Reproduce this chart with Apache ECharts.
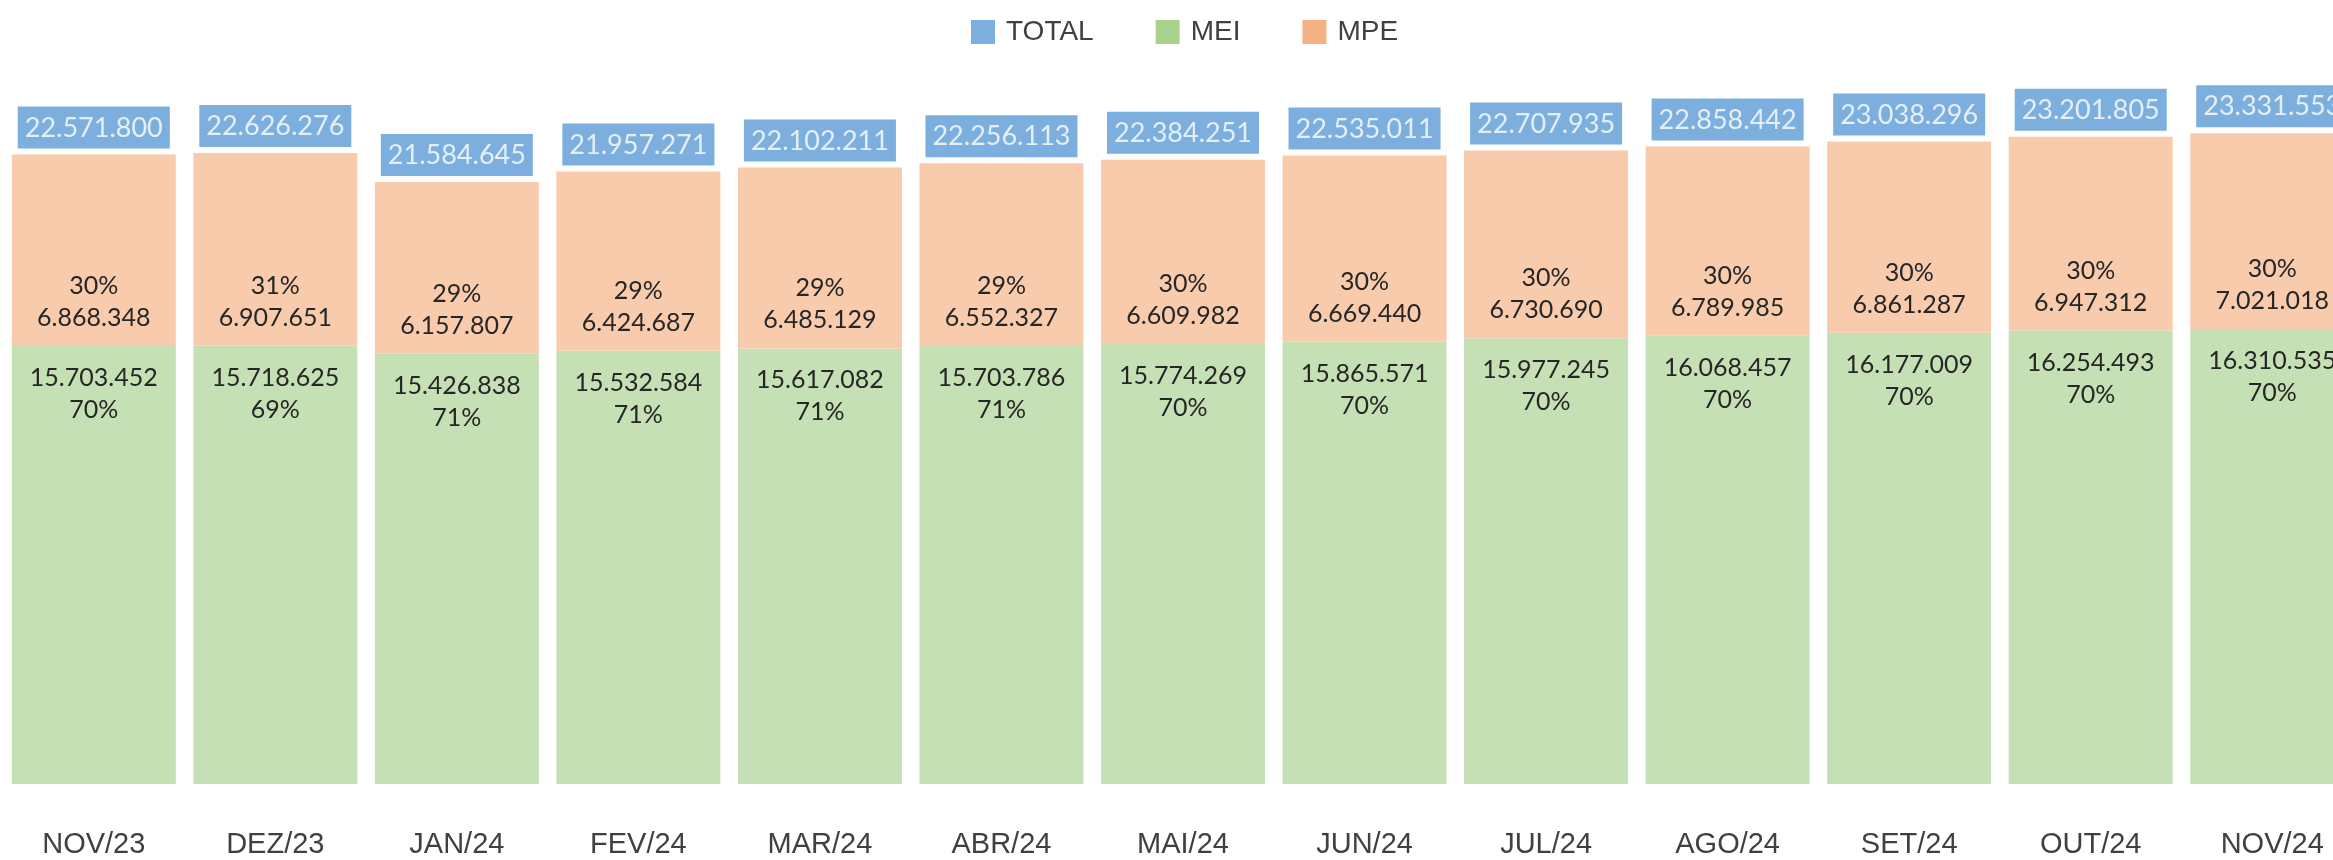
<!DOCTYPE html>
<html>
<head>
<meta charset="utf-8">
<script src="https://cdn.jsdelivr.net/npm/echarts@6/dist/echarts.min.js"></script>
<style>
  html, body { margin: 0; padding: 0; background: #fff; }
  #main { width: 2333px; height: 860px; }
</style>
</head>
<body>
<div id="main"></div>
<script>
// dados
const meses = ['NOV/23', 'DEZ/23', 'JAN/24', 'FEV/24', 'MAR/24', 'ABR/24', 'MAI/24',
  'JUN/24', 'JUL/24', 'AGO/24', 'SET/24', 'OUT/24', 'NOV/24']
const total = [22571800, 22626276, 21584645, 21957271, 22102211, 22256113, 22384251,
  22535011, 22707935, 22858442, 23038296, 23201805, 23331553]
const mei = [15703452, 15718625, 15426838, 15532584, 15617082, 15703786, 15774269,
  15865571, 15977245, 16068457, 16177009, 16254493, 16310535]
const mpe = [6868348, 6907651, 6157807, 6424687, 6485129, 6552327, 6609982,
  6669440, 6730690, 6789985, 6861287, 6947312, 7021018]
const meiPct = [70, 69, 71, 71, 71, 71, 70, 70, 70, 70, 70, 70, 70]
const mpePct = [30, 31, 29, 29, 29, 29, 30, 30, 30, 30, 30, 30, 30]

const fmt = v => String(v).replace(/\B(?=(\d{3})+(?!\d))/g, '.')

const labelFont = 'Lato, "Open Sans", sans-serif'
const axisFont = '"Liberation Sans", Arial, sans-serif'

const myChart = echarts.init(document.getElementById('main'))
const option = {
  animation: false,
  legend: {
    left: 966,
    top: 13,
    itemWidth: 24,
    itemHeight: 24,
    itemGap: 62,
    icon: 'rect',
    textStyle: { fontFamily: axisFont, fontSize: 28, color: '#404040', padding: [0, 0, 0, 6] },
    data: [
      { name: 'TOTAL', itemStyle: { color: '#5B9BD5' } },
      { name: 'MEI', itemStyle: { color: '#A9D18E' } },
      { name: 'MPE', itemStyle: { color: '#F4B183' } }
    ]
  },
  grid: {
    left: 3,
    width: 2360,
    top: 3,
    bottom: 76,
    outerBoundsMode: 'none'
  },
  xAxis: {
    type: 'category',
    data: meses,
    axisLine: { show: false },
    axisTick: { show: false },
    axisLabel: {
      margin: 46,
      fontFamily: axisFont,
      fontSize: 29,
      color: '#404040'
    }
  },
  yAxis: {
    type: 'value',
    min: 0,
    max: 28000000,
    show: false,
    splitLine: { show: false }
  },
  series: [
    {
      name: 'TOTAL',
      type: 'scatter',
      symbolSize: 0,
      itemStyle: { color: '#5B9BD5' },
      data: total,
      z: 5,
      label: {
        show: true,
        position: 'top',
        distance: 6,
        formatter: p => fmt(p.value),
        backgroundColor: '#5B9BD5',
        color: '#fff',
        fontFamily: labelFont,
        fontSize: 27,
        padding: [8, 7, 7, 7]
      }
    },
    {
      name: 'MEI',
      type: 'bar',
      stack: 'a',
      barWidth: 164,
      itemStyle: { color: '#C5E0B4' },
      data: mei,
      label: {
        show: true,
        position: 'insideTop',
        distance: 16,
        formatter: p => fmt(p.value) + '\n' + meiPct[p.dataIndex] + '%',
        color: '#262626',
        fontFamily: labelFont,
        fontSize: 25,
        lineHeight: 32
      }
    },
    {
      name: 'MPE',
      type: 'bar',
      stack: 'a',
      barWidth: 164,
      itemStyle: { color: '#F8CBAD' },
      data: mpe,
      label: {
        show: true,
        position: 'insideBottom',
        distance: 12,
        formatter: p => mpePct[p.dataIndex] + '%\n' + fmt(p.value),
        color: '#262626',
        fontFamily: labelFont,
        fontSize: 25,
        lineHeight: 32
      }
    }
  ]
}
myChart.setOption(option)
</script>
</body>
</html>
